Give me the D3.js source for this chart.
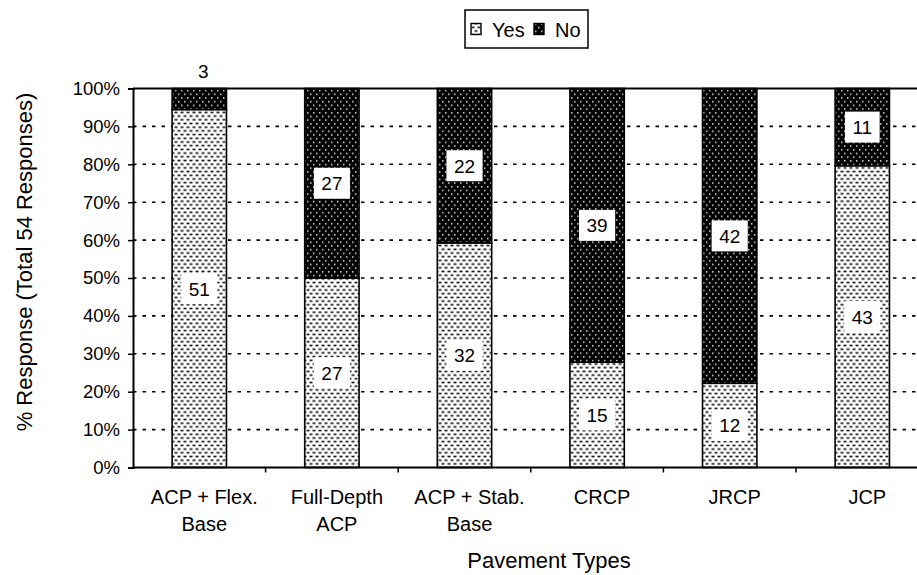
<!DOCTYPE html>
<html>
<head>
<meta charset="utf-8">
<script src="https://cdn.jsdelivr.net/npm/d3@7"></script>
<style>
  html, body { margin: 0; padding: 0; background: #fff; }
  svg { display: block; font-family: "Liberation Sans", Arial, Helvetica, sans-serif; }
</style>
</head>
<body>
<svg id="chart" width="917" height="575"></svg>
<script>
// Pavement types and the number of Yes / No answers (54 responses each)
const categories = [["ACP + Flex.", "Base"], ["Full-Depth", "ACP"], ["ACP + Stab.", "Base"], ["CRCP"], ["JRCP"], ["JCP"]];
const yesCounts = [51, 27, 32, 15, 12, 43];
const noCounts = [3, 27, 22, 39, 42, 11];
const totalResponses = 54;
const yTicks = [0, 10, 20, 30, 40, 50, 60, 70, 80, 90, 100];
const seriesNames = ["Yes", "No"];

const svg = d3.select("#chart");
const plot = { left: 133, top: 88.5, bottom: 467.5, right: 928.6 };

const x = d3.scaleBand()
  .domain(d3.range(categories.length))
  .range([plot.left, plot.right])
  .paddingInner(0.59)
  .paddingOuter(0.295);

const y = d3.scaleLinear().domain([0, 100]).range([plot.bottom, plot.top]);

// Fill patterns: dark stipple on white for Yes, light dots on black for No
const defs = svg.append("defs");
const pYes = defs.append("pattern").attr("id", "patYes")
  .attr("patternUnits", "userSpaceOnUse").attr("width", 6).attr("height", 7.4);
pYes.append("rect").attr("width", 6).attr("height", 7.4).attr("fill", "#fff");
[[0.5, 0.6], [3.5, 4.3], [-2.5, 4.3]].forEach(([px, py]) => {
  pYes.append("rect").attr("x", px).attr("y", py).attr("width", 3).attr("height", 1.6).attr("fill", "#111");
});

const pNo = defs.append("pattern").attr("id", "patNo")
  .attr("patternUnits", "userSpaceOnUse").attr("width", 6).attr("height", 7.4);
pNo.append("rect").attr("width", 6).attr("height", 7.4).attr("fill", "#000");
[[1, 1], [4, 4.7]].forEach(([px, py]) => {
  pNo.append("rect").attr("x", px).attr("y", py).attr("width", 1.5).attr("height", 1.5).attr("fill", "#d8d8d8");
});
const fills = { Yes: "url(#patYes)", No: "url(#patNo)" };

// Horizontal dotted gridlines
svg.append("g").selectAll("line")
  .data(yTicks.filter(t => t > 0 && t < 100))
  .join("line")
  .attr("x1", plot.left).attr("x2", plot.right)
  .attr("y1", d => y(d)).attr("y2", d => y(d))
  .attr("stroke", "#000").attr("stroke-width", 1.6)
  .attr("stroke-dasharray", "3.5,6");

// Stacked segments
const rows = categories.map((c, i) => {
  const yesPct = yesCounts[i] / totalResponses * 100;
  return {
    i,
    segs: [
      { key: "Yes", count: yesCounts[i], y0: 0, y1: yesPct },
      { key: "No", count: noCounts[i], y0: yesPct, y1: 100 }
    ]
  };
});

const bars = svg.append("g");
rows.forEach(r => {
  bars.selectAll(null).data(r.segs).join("rect")
    .attr("x", x(r.i))
    .attr("width", x.bandwidth())
    .attr("y", d => y(d.y1))
    .attr("height", d => y(d.y0) - y(d.y1))
    .attr("fill", d => fills[d.key])
    .attr("stroke", "#000").attr("stroke-width", 1.6);
});

// Top frame line at 100%
svg.append("line")
  .attr("x1", plot.left).attr("x2", plot.right)
  .attr("y1", y(100)).attr("y2", y(100))
  .attr("stroke", "#000").attr("stroke-width", 2);

// Y axis
const yAxis = d3.axisLeft(y).tickValues(yTicks).tickFormat(d => d + "%").tickSize(5).tickPadding(8);
const gy = svg.append("g").attr("transform", `translate(${plot.left},0)`).call(yAxis);
gy.select(".domain").attr("stroke-width", 2);
gy.selectAll(".tick line").attr("stroke-width", 1.5).attr("x2", -5).attr("x1", 2);
gy.selectAll(".tick text").attr("font-size", 18.5).attr("fill", "#000")
  .attr("font-family", "'Liberation Sans', Arial, sans-serif");

// X axis with ticks at category boundaries
const gx = svg.append("g").attr("transform", `translate(0,${plot.bottom})`);
gx.append("line").attr("x1", plot.left).attr("x2", plot.right)
  .attr("stroke", "#000").attr("stroke-width", 2);
const step = x.step();
gx.selectAll(".bt").data(d3.range(1, categories.length + 1)).join("line")
  .attr("x1", d => plot.left + d * step).attr("x2", d => plot.left + d * step)
  .attr("y1", 0).attr("y2", 5).attr("stroke", "#000").attr("stroke-width", 1.5);
gx.selectAll(".cat").data(categories).join("text")
  .attr("text-anchor", "middle")
  .attr("font-size", 20)
  .attr("x", (d, i) => x(i) + x.bandwidth() / 2 + 5)
  .each(function(d) {
    const cx = d3.select(this).attr("x");
    d3.select(this).selectAll("tspan").data(d).join("tspan")
      .attr("x", cx)
      .attr("y", (t, j) => 36.5 + j * 27)
      .text(t => t);
  });

// Value labels on white boxes at the middle of each segment
const labels = svg.append("g");
rows.forEach(r => {
  r.segs.forEach(s => {
    const cx = x(r.i) + x.bandwidth() / 2;
    const small = (y(s.y0) - y(s.y1)) < 25;
    const g = labels.append("g");
    if (small) {
      g.append("text")
        .attr("x", cx + 4).attr("y", y(100) - 10.5)
        .attr("text-anchor", "middle")
        .attr("font-size", 19).attr("fill", "#000")
        .text(s.count);
      return;
    }
    const cy = (y(s.y0) + y(s.y1)) / 2;
    const t = g.append("text")
      .attr("x", cx).attr("y", cy + 7)
      .attr("text-anchor", "middle")
      .attr("font-size", 19).attr("fill", "#000")
      .text(s.count);
    const w = t.node().getComputedTextLength() + 15;
    g.insert("rect", "text")
      .attr("x", cx - w / 2).attr("y", cy - 15.5)
      .attr("width", w).attr("height", 31)
      .attr("fill", "#fff");
  });
});

// Axis titles
svg.append("text")
  .attr("x", 549).attr("y", 568)
  .attr("text-anchor", "middle").attr("font-size", 22)
  .text("Pavement Types");
svg.append("text")
  .attr("transform", "translate(32,262) rotate(-90)")
  .attr("text-anchor", "middle").attr("font-size", 22)
  .text("% Response (Total 54 Responses)");

// Legend
const lg = svg.append("g");
lg.append("rect").attr("x", 465).attr("y", 10).attr("width", 123).attr("height", 38)
  .attr("fill", "#fff").attr("stroke", "#000").attr("stroke-width", 1.5);
const legendX = [471, 534];
seriesNames.forEach((name, i) => {
  lg.append("rect").attr("x", legendX[i]).attr("y", 23.5).attr("width", 10).attr("height", 11)
    .attr("fill", fills[name]).attr("stroke", "#000").attr("stroke-width", 1.4);
  lg.append("text").attr("x", legendX[i] + 21).attr("y", 36.5)
    .attr("font-size", 20).text(name);
});
</script>
</body>
</html>
